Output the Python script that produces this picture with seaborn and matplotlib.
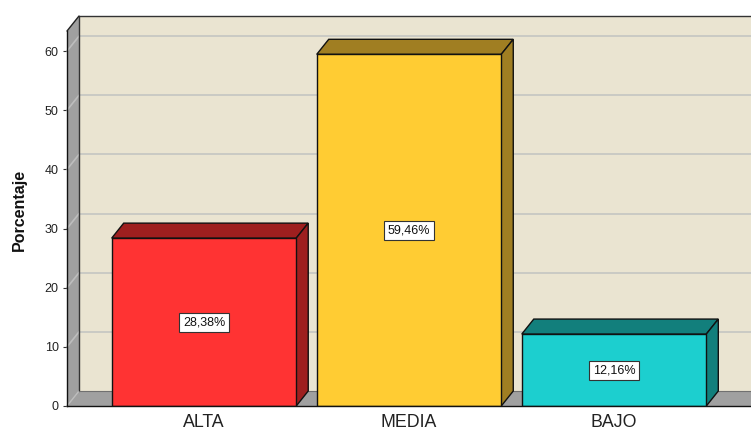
import matplotlib
matplotlib.use("Agg")
import matplotlib.pyplot as plt
import seaborn as sns
from matplotlib.patches import Polygon, Rectangle

categories = ["ALTA", "MEDIA", "BAJO"]
percentages = [28.38, 59.46, 12.16]
value_labels = ["28,38%", "59,46%", "12,16%"]
front_colors = ["#FF3333", "#FFCC33", "#1CCFCF"]
side_colors = ["#9E1F1F", "#A07E22", "#127F7C"]
yticks = [0, 10, 20, 30, 40, 50, 60]

sns.set_theme(style="white")
plt.rcParams["font.family"] = ["Liberation Sans", "DejaVu Sans"]

W, H = 751, 432
fig = plt.figure(figsize=(W / 100, H / 100), dpi=100)
fig.patch.set_facecolor("white")
ax = fig.add_axes([67 / W, 26 / H, (W - 67) / W, 375 / H])

# bars (front faces)
sns.barplot(x=categories, y=percentages, hue=categories, palette=front_colors,
            width=0.9, saturation=1, edgecolor="#111111", linewidth=1.0,
            legend=False, ax=ax)
bars = [p for p in ax.patches if isinstance(p, Rectangle)]
ax.patch.set_visible(False)

XMIN, XMAX = -0.668, 2.668
YMAX = 63.4
ax.set_xlim(XMIN, XMAX)
ax.set_ylim(0, YMAX)

# depth of the pseudo-3D box, in pixels
DX, DY = 12, 15


def shifted(x, y):
    X, Y = ax.transData.transform((x, y))
    return tuple(ax.transData.inverted().transform((X + DX, Y + DY)))


XFAR = XMAX + 1.0
CREAM = "#EAE4D1"
WALL = "#A0A0A0"

# back wall
ax.add_patch(Polygon([shifted(XMIN, 0), shifted(XFAR, 0), shifted(XFAR, YMAX), shifted(XMIN, YMAX)],
                     closed=True, fc=CREAM, ec="none", zorder=0, clip_on=False))
for t in yticks[1:]:
    p0, p1 = shifted(XMIN, t), shifted(XFAR, t)
    ax.plot([p0[0], p1[0]], [p0[1], p1[1]], color="#CACAC4", lw=1.4, zorder=1, clip_on=False)

# left wall
ax.add_patch(Polygon([(XMIN, 0), (XMIN, YMAX), shifted(XMIN, YMAX), shifted(XMIN, 0)],
                     closed=True, fc=WALL, ec="none", zorder=1, clip_on=False))
for t in yticks[1:]:
    p1 = shifted(XMIN, t)
    ax.plot([XMIN, p1[0]], [t, p1[1]], color="#BDBDBD", lw=1.2, zorder=1.5, clip_on=False)

# floor
ax.add_patch(Polygon([(XMIN, 0), (XFAR, 0), shifted(XFAR, 0), shifted(XMIN, 0)],
                     closed=True, fc=WALL, ec="none", zorder=1, clip_on=False))
p1 = shifted(XMIN, 0)
ax.plot([XMIN, p1[0]], [0, p1[1]], color="#BDBDBD", lw=1.0, zorder=1.5, clip_on=False)

# box outlines
b0, b1, b2 = shifted(XMIN, 0), shifted(XMIN, YMAX), shifted(XFAR, YMAX)
ax.plot([b0[0], b1[0], b2[0]], [b0[1], b1[1], b2[1]], color="#333333", lw=1.0, zorder=2, clip_on=False)
f1 = shifted(XFAR, 0)
ax.plot([b0[0], f1[0]], [b0[1], f1[1]], color="#707070", lw=0.8, zorder=2, clip_on=False)
ax.plot([XMIN, b1[0]], [YMAX, b1[1]], color="#222222", lw=1.0, zorder=2, clip_on=False)

# top and side faces of each bar, plus value labels
for patch, side, label in zip(bars, side_colors, value_labels):
    patch.set_zorder(5)
    x0 = patch.get_x()
    x1 = x0 + patch.get_width()
    h = patch.get_height()
    ax.add_patch(Polygon([(x0, h), (x1, h), shifted(x1, h), shifted(x0, h)],
                         closed=True, fc=side, ec="#111111", lw=1.0, zorder=4, clip_on=False))
    ax.add_patch(Polygon([(x1, 0), (x1, h), shifted(x1, h), shifted(x1, 0)],
                         closed=True, fc=side, ec="#111111", lw=1.0, zorder=4, clip_on=False))
    ax.text((x0 + x1) / 2, h / 2, label, ha="center", va="center", fontsize=9,
            color="#111111", zorder=6,
            bbox=dict(boxstyle="square,pad=0.28", fc="white", ec="#333333", lw=0.8))

# axes styling
for s in ["top", "right"]:
    ax.spines[s].set_visible(False)
for s in ["left", "bottom"]:
    ax.spines[s].set_visible(True)
    ax.spines[s].set_color("#111111")
    ax.spines[s].set_linewidth(1.0)
    ax.spines[s].set_zorder(7)

ax.set_yticks(yticks)
ax.set_yticklabels([str(t) for t in yticks])
ax.tick_params(axis="y", left=True, length=3, width=0.8, color="#333333",
               labelsize=9, labelcolor="#222222", pad=3)
ax.tick_params(axis="x", bottom=False, length=0, labelsize=12.8,
               labelcolor="#222222", pad=6)
ax.set_xlabel("")
ax.set_ylabel("")
fig.text(19 / W, 1 - 210 / H, "Porcentaje", rotation=90, ha="center", va="center",
         fontsize=11.5, fontweight="bold", color="#111111")

fig.savefig("out.png", dpi=100)
